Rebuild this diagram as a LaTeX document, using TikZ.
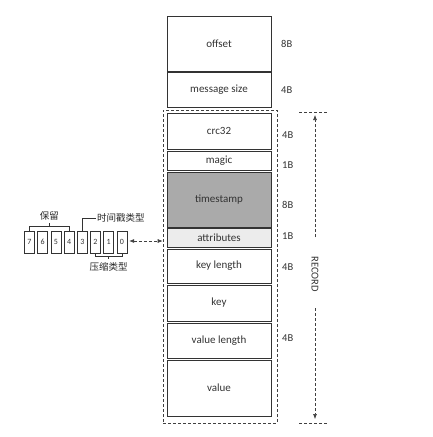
\documentclass[tikz,border=0pt]{standalone}
\usepackage{fontspec}
\setmainfont{Carlito}
\newfontfamily\cjk{Noto Sans CJK SC}
\usetikzlibrary{arrows.meta,shadows,calc}
\begin{document}
\begin{tikzpicture}[x=1pt,y=-1pt,
  field/.style={draw=black!80, line width=0.8pt, minimum width=104pt, inner sep=0pt,
     fill=white, font=\fontsize{11}{13}\selectfont, text=black!80,
     drop shadow={shadow xshift=0.9pt, shadow yshift=-0.9pt, fill=black!45, opacity=0.8}},
  sizelbl/.style={font=\fontsize{10.5}{12}\selectfont, text=black!80, anchor=west, inner sep=0pt},
  bitbox/.style={draw=black!80, line width=0.6pt, minimum width=10pt, minimum height=22pt,
     inner sep=0pt, font=\fontsize{8}{9}\selectfont, text=black!80},
  cn/.style={font=\cjk\fontsize{9.5}{11}\selectfont, text=black!85, inner sep=0pt},
  dashln/.style={dashed, dash pattern=on 3pt off 2pt, line width=0.6pt, draw=black!75},
  brk/.style={line width=0.5pt, draw=black!80}]
\useasboundingbox (0,0) rectangle (433,437);

% main fields
\node[field, minimum height=55pt] (offset) at (219,43.5) {offset};
\node[field, minimum height=35pt] (msize) at (219,89.5) {message size};
\node[field, minimum height=36pt] (crc) at (219,131) {crc32};
\node[field, minimum height=19pt] (magic) at (219,160.5) {magic};
\node[field, minimum height=55pt, fill={rgb,255:red,170;green,170;blue,170}] (ts) at (219,199.5) {timestamp};
\node[field, minimum height=19pt, fill={rgb,255:red,236;green,236;blue,236}] (attr) at (219,237.5) {attributes};
\node[field, minimum height=34pt] (klen) at (219,266) {key length};
\node[field, minimum height=36pt] (key) at (219,303) {key};
\node[field, minimum height=35pt] (vlen) at (219,340.5) {value length};
\node[field, minimum height=56pt] (val) at (219,388) {value};

% dashed record box
\node[dashln, draw, minimum width=114pt, minimum height=313pt, inner sep=0pt] (rec) at (220,266.5) {};

% size labels
\node[sizelbl] (s1) at (281,44) {8B};
\node[sizelbl] (s2) at (281,90) {4B};
\node[sizelbl] (s3) at (282,135) {4B};
\node[sizelbl] (s4) at (282,165) {1B};
\node[sizelbl] (s5) at (282,205) {8B};
\node[sizelbl] (s6) at (282,236) {1B};
\node[sizelbl] (s7) at (282,267) {4B};
\node[sizelbl] (s8) at (282,338) {4B};

% RECORD marker
\coordinate (tl) at (299,112);
\coordinate (tr) at (328,112);
\coordinate (bl) at (299,423);
\coordinate (br) at (328,423);
\coordinate (upS) at (315,237);
\coordinate (upE) at (315,115);
\coordinate (dnS) at (315,308);
\coordinate (dnE) at (315,419);
\draw[dashln] (tl) -- (tr);
\draw[dashln] (bl) -- (br);
\draw[dashln, -{Latex[length=5pt,width=4pt]}] (upS) -- (upE);
\draw[dashln, -{Latex[length=5pt,width=4pt]}] (dnS) -- (dnE);
\node[rotate=-90, font=\fontsize{10.5}{12}\selectfont, text=black!80] (record) at (315,274) {RECORD};

% bit boxes
\foreach \b/\x in {7/29.5,6/42.7,5/55.9,4/69.1,3/82.3,2/95.5,1/108.7,0/121.9}
  \node[bitbox] (b\b) at (\x,242) {\b};

% 保留 bracket
\draw[brk] (b7.north) -- ++(0,-4) -- ($(b4.north)+(0,-4)$) -- (b4.north);
\coordinate (pm) at (49.3,227);
\draw[brk] (pm) -- (49.3,223);
\node[cn] (baoliu) at (49.3,216) {保留};

% 时间戳类型
\coordinate (tsk) at (82.3,218);
\draw[brk] (b3.north) -- (tsk) -- (96,218);
\node[cn, anchor=west] (tstype) at (97,218) {时间戳类型};

% 压缩类型 bracket
\draw[brk] (b2.south) -- ++(0,3) -- ($(b0.south)+(0,3)$) -- (b0.south);
\draw[brk] (108.7,256) -- (108.7,259);
\node[cn] (yasuo) at (108.7,267) {压缩类型};

% dashed double arrow
\draw[dashln, {Latex[length=5pt,width=4pt]}-{Latex[length=5pt,width=4pt]}] ($(b0.east)+(2,-1)$) -- ($(rec.west |- b0.east)+(0,-1)$);
\end{tikzpicture}
\end{document}
